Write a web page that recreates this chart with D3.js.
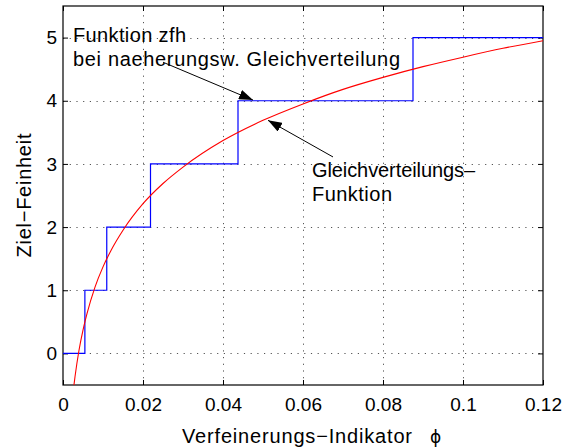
<!DOCTYPE html>
<html>
<head>
<meta charset="utf-8">
<script src="https://cdn.jsdelivr.net/npm/d3@7"></script>
<style>
  html, body { margin: 0; padding: 0; background: #fff; }
  svg { display: block; font-family: "Liberation Sans", Arial, Helvetica, sans-serif; }
</style>
</head>
<body>
<svg id="chart" width="563" height="448"></svg>
<script>
// Step function: target fineness as a function of the refinement indicator
const stairPhi   = [0, 0.00547, 0.01094, 0.021875, 0.04375, 0.0875, 0.12];
const stairLevel = [0, 1, 2, 3, 4, 5, 5];

// Uniform-distribution function (smooth curve)
const curvePhi   = [0.0027, 0.003, 0.004, 0.005, 0.006, 0.008, 0.01, 0.012, 0.015, 0.02, 0.025,
                    0.03, 0.04, 0.05, 0.06, 0.07, 0.08, 0.09, 0.1, 0.11, 0.12];
const curveLevel = [-0.52, -0.37, 0.05, 0.37, 0.63, 1.05, 1.37, 1.63, 1.95, 2.37, 2.69,
                    2.95, 3.37, 3.69, 3.95, 4.18, 4.37, 4.54, 4.69, 4.83, 4.95];

const xTicks = [0, 0.02, 0.04, 0.06, 0.08, 0.1, 0.12];
const xTickLabels = ["0", "0.02", "0.04", "0.06", "0.08", "0.1", "0.12"];
const yTicks = [0, 1, 2, 3, 4, 5];
const yTickLabels = ["0", "1", "2", "3", "4", "5"];

const xLabel = "Verfeinerungs\u2212Indikator";
const xSymbol = "\u03d5";
const yLabel = "Ziel\u2212Feinheit";

// Annotations (data coordinates); width = rendered line length in px
const notes = [
  { lines: ["Funktion zfh", "bei naeherungsw. Gleichverteilung"], widths: [113, 327],
    x: 0.0025, y: 4.93, from: [0.025, 4.61], to: [0.0475, 4.01] },
  { lines: ["Gleichverteilungs\u2013", "Funktion"], widths: [163, 80],
    x: 0.06225, y: 2.79, from: [0.0675, 3.11], to: [0.05125, 3.69] }
];

const svg = d3.select("#chart");
const plot = { left: 63, right: 543, top: 6, bottom: 385 };

const x = d3.scaleLinear().domain([0, 0.12]).range([plot.left, plot.right]);
const y = d3.scaleLinear().domain([-0.5, 5.5]).range([plot.bottom, plot.top]);

svg.append("defs").append("clipPath").attr("id", "plotClip")
  .append("rect")
  .attr("x", plot.left).attr("y", plot.top)
  .attr("width", plot.right - plot.left).attr("height", plot.bottom - plot.top);

// Dotted grid
const grid = svg.append("g").attr("stroke", "#555").attr("stroke-width", 1)
  .attr("stroke-dasharray", "1.2,5.5");
grid.selectAll("line.gx").data(xTicks.slice(1, -1)).join("line")
  .attr("x1", d => Math.round(x(d)) + 0.5).attr("x2", d => Math.round(x(d)) + 0.5)
  .attr("y1", plot.bottom).attr("y2", plot.top);
grid.selectAll("line.gy").data(yTicks).join("line")
  .attr("y1", d => Math.round(y(d)) + 0.5).attr("y2", d => Math.round(y(d)) + 0.5)
  .attr("x1", plot.left).attr("x2", plot.right);

// Axes with inward ticks on all four sides
const tickLen = 5;
const axisBottom = d3.axisBottom(x).tickValues(xTicks).tickFormat((d, i) => xTickLabels[i])
  .tickSizeInner(-tickLen).tickSizeOuter(0).tickPadding(13);
const axisTop = d3.axisTop(x).tickValues(xTicks).tickFormat("").tickSizeInner(-tickLen).tickSizeOuter(0);
const axisLeft = d3.axisLeft(y).tickValues(yTicks).tickFormat((d, i) => yTickLabels[i])
  .tickSizeInner(-tickLen).tickSizeOuter(0).tickPadding(6);
const axisRight = d3.axisRight(y).tickValues(yTicks).tickFormat("").tickSizeInner(-tickLen).tickSizeOuter(0);

function styleAxis(g) {
  g.select(".domain").remove();
  g.selectAll(".tick line").attr("stroke", "#000");
  g.selectAll(".tick text").attr("fill", "#000")
    .style("font-family", "'Liberation Sans', Arial, Helvetica, sans-serif")
    .style("font-size", "19px");
}
svg.append("g").attr("transform", `translate(0,${plot.bottom})`).call(axisBottom).call(styleAxis);
svg.append("g").attr("transform", `translate(0,${plot.top})`).call(axisTop).call(styleAxis);
svg.append("g").attr("transform", `translate(${plot.left},0)`).call(axisLeft).call(styleAxis);
svg.append("g").attr("transform", `translate(${plot.right},0)`).call(axisRight).call(styleAxis);

// Box
svg.append("rect")
  .attr("x", plot.left).attr("y", plot.top)
  .attr("width", plot.right - plot.left).attr("height", plot.bottom - plot.top)
  .attr("fill", "none").attr("stroke", "#000").attr("stroke-width", 1.2);

const marks = svg.append("g").attr("clip-path", "url(#plotClip)");

// Step function
const stairData = stairPhi.map((p, i) => [p, stairLevel[i]]);
marks.append("path")
  .datum(stairData)
  .attr("fill", "none").attr("stroke", "#0000ff").attr("stroke-width", 1.2)
  .attr("d", d3.line().x(d => x(d[0])).y(d => y(d[1])).curve(d3.curveStepAfter));

// Smooth curve
const curveData = curvePhi.map((p, i) => [p, curveLevel[i]]);
marks.append("path")
  .datum(curveData)
  .attr("fill", "none").attr("stroke", "#ff0000").attr("stroke-width", 1.1)
  .attr("d", d3.line().x(d => x(d[0])).y(d => y(d[1])).curve(d3.curveMonotoneX));

// Arrowhead
svg.select("defs").append("marker")
  .attr("id", "arrowHead").attr("viewBox", "0 0 14 10")
  .attr("refX", 14).attr("refY", 5)
  .attr("markerWidth", 14).attr("markerHeight", 10)
  .attr("markerUnits", "userSpaceOnUse").attr("orient", "auto")
  .append("path").attr("d", "M0,0 L14,5 L0,10 Z").attr("fill", "#000");

const noteG = svg.append("g");
notes.forEach(n => {
  noteG.append("line")
    .attr("x1", x(n.from[0])).attr("y1", y(n.from[1]))
    .attr("x2", x(n.to[0])).attr("y2", y(n.to[1]))
    .attr("stroke", "#000").attr("stroke-width", 1)
    .attr("marker-end", "url(#arrowHead)");
  n.lines.forEach((line, i) => {
    noteG.append("text")
      .attr("x", x(n.x)).attr("y", y(n.y) + i * 24)
      .attr("font-size", 20).attr("fill", "#000")
      .attr("textLength", n.widths[i]).attr("lengthAdjust", "spacing")
      .text(line);
  });
});

// Axis labels
svg.append("text")
  .attr("x", 182).attr("y", 443)
  .attr("font-size", 20).attr("fill", "#000")
  .attr("textLength", 230).attr("lengthAdjust", "spacing")
  .text(xLabel);
svg.append("text")
  .attr("x", 430).attr("y", 443)
  .attr("font-size", 17).attr("fill", "#000")
  .style("font-family", "'DejaVu Sans', sans-serif")
  .text(xSymbol);

svg.append("text")
  .attr("transform", `translate(31,${(plot.top + plot.bottom) / 2}) rotate(-90)`)
  .attr("text-anchor", "middle")
  .attr("font-size", 20).attr("fill", "#000")
  .attr("textLength", 124).attr("lengthAdjust", "spacing")
  .text(yLabel);
</script>
</body>
</html>
